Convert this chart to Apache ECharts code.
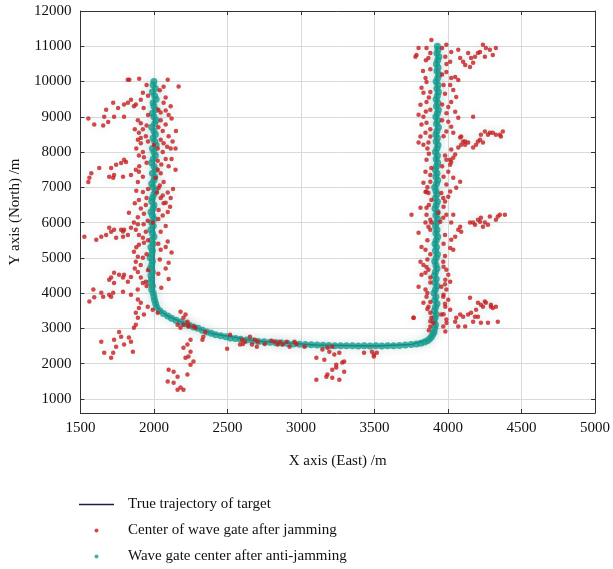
<!DOCTYPE html>
<html>
<head>
<meta charset="utf-8">
<script src="https://cdn.jsdelivr.net/npm/echarts@6/dist/echarts.min.js"></script>
<style>html,body{margin:0;padding:0;background:#fff}#c{width:613px;height:569px}</style>
</head>
<body>
<div id="c"></div>
<script>
const xTicks = [1500, 2000, 2500, 3000, 3500, 4000, 4500, 5000];
const yTicks = [1000, 2000, 3000, 4000, 5000, 6000, 7000, 8000, 9000, 10000, 11000, 12000];
const legendNames = ['True trajectory of target', 'Center of wave gate after jamming', 'Wave gate center after anti-jamming'];

const trueTrajectory = [[2000,10000],[2000,4000],[2020,3600],[2080,3380],[2200,3150],[2400,2850],[2700,2640],[3100,2530],[3500,2500],[3750,2540],[3880,2700],[3915,3000],[3925,11000]];

const antiLeft = [[2000,10000],[1995,9900],[2010,9800],[1990,9700],[2005,9600],[2015,9500],[1995,9400],[2000,9300],[2010,9200],[1990,9100],[2000,9000],[2015,8900],[2005,8800],[1985,8700],[2000,8600],[2010,8500],[1995,8400],[2005,8300],[2015,8200],[1990,8100],[2000,8000],[2010,7900],[1995,7800],[1985,7700],[2000,7600],[2010,7500],[1990,7400],[2005,7300],[2000,7200],[1985,7100],[1995,7000],[2010,6900],[2000,6800],[1990,6700],[1985,6600],[2000,6500],[1995,6400],[1980,6300],[1990,6200],[2000,6100],[1985,6000],[1995,5900],[1980,5800],[1990,5700],[2000,5600],[1985,5500],[1995,5400],[1980,5300],[1990,5200],[1985,5100],[1975,5000],[1990,4900],[1985,4800],[1975,4700],[1990,4600],[1980,4500],[1985,4400],[1975,4300],[1990,4200],[1985,4100],[1995,4000],[2000,3900]];
const antiCurve = [[2005,3800],[2012,3700],[2020,3600],[2040,3500],[2065,3420],[2094,3350],[2120,3290],[2150,3230],[2181,3180],[2210,3130],[2240,3090],[2270,3040],[2300,3000],[2330,2950],[2360,2900],[2390,2860],[2420,2820],[2455,2790],[2490,2760],[2520,2730],[2555,2710],[2590,2690],[2630,2670],[2670,2650],[2710,2630],[2750,2620],[2790,2605],[2830,2595],[2870,2585],[2910,2570],[2950,2560],[2990,2550],[3030,2540],[3070,2535],[3110,2525],[3150,2520],[3190,2515],[3230,2510],[3270,2510],[3310,2505],[3350,2505],[3390,2500],[3430,2505],[3470,2500],[3510,2505],[3550,2500],[3590,2505],[3630,2510],[3670,2515],[3710,2525],[3750,2540],[3785,2560],[3815,2580],[3840,2610],[3860,2650],[3875,2700],[3888,2760],[3897,2830],[3905,2900]];
const antiRight = [[3910,3000],[3915,3100],[3905,3200],[3912,3300],[3920,3400],[3908,3500],[3915,3600],[3925,3700],[3910,3800],[3918,3900],[3905,4000],[3915,4100],[3925,4200],[3912,4300],[3920,4400],[3908,4500],[3915,4600],[3925,4700],[3918,4800],[3910,4900],[3920,5000],[3928,5100],[3915,5200],[3922,5300],[3912,5400],[3920,5500],[3930,5600],[3918,5700],[3925,5800],[3915,5900],[3922,6000],[3930,6100],[3918,6200],[3925,6300],[3912,6400],[3920,6500],[3928,6600],[3915,6700],[3925,6800],[3918,6900],[3910,7000],[3922,7100],[3930,7200],[3918,7300],[3925,7400],[3915,7500],[3922,7600],[3930,7700],[3920,7800],[3928,7900],[3915,8000],[3925,8100],[3932,8200],[3920,8300],[3928,8400],[3918,8500],[3925,8600],[3935,8700],[3922,8800],[3930,8900],[3918,9000],[3928,9100],[3935,9200],[3922,9300],[3930,9400],[3920,9500],[3928,9600],[3935,9700],[3925,9800],[3932,9900],[3920,10000],[3930,10100],[3938,10200],[3925,10300],[3932,10400],[3922,10500],[3930,10600],[3938,10700],[3925,10800],[3932,10900],[3928,11000]];

const jammedLeftUpper = [[1822,10050],[1833,10050],[1900,10080],[2094,10050],[2066,9850],[2168,9860],[1925,9680],[1911,9480],[1844,9480],[1864,9300],[1723,9400],[1756,9250],[1797,9350],[1823,9400],[1877,9350],[1675,9200],[1662,9000],[1554,8950],[1594,8780],[1655,8750],[1689,8850],[1729,9000],[1797,9000],[2066,9400],[2114,9300],[2080,9180],[2046,9120],[2100,9050],[1891,8900],[1911,8820],[1925,8650],[1898,8550],[1945,8450],[1911,8400],[2046,8900],[2080,8780],[2060,8600],[2100,8450],[2046,8350],[2127,8300],[2066,8250],[2147,8100],[2114,8100],[1891,8350],[1911,8250],[1925,8000],[1898,7900],[1932,7850],[2026,8100],[2060,8000],[2080,7800],[2026,7750],[2100,7600],[1797,7780],[1777,7690],[1810,7720],[1743,7640],[1709,7550],[1729,7350],[1696,7300],[1723,7270],[1628,7550],[1574,7400],[1561,7270],[1554,7150],[1790,7300],[1844,7350],[1877,7500],[1898,7440],[1925,7300],[2147,7500],[2026,7500],[2046,7400],[2012,7270],[2066,7150],[2032,6980],[2094,6850],[2060,6770],[2114,6700],[2080,6560],[1891,7150],[1925,6870],[1898,6640],[1945,6500],[1911,6400],[1932,6250],[1891,6150],[1958,6050],[1992,6000],[2046,6700],[2066,6550],[2032,6360],[2094,6300],[2060,6200],[1830,6280],[1864,6000],[1844,5850],[1891,5950],[1877,5800],[1797,5800],[1696,5850],[1790,5750]];
const jammedLeftColumn = [[1950,9900],[2040,9750],[1960,9600],[2080,9550],[1930,9250],[2030,9200],[1960,9050],[2120,8950],[1950,8750],[2030,8700],[1870,8650],[2150,8600],[1960,8300],[2000,8200],[2090,8150],[1880,8100],[1950,7700],[2050,7650],[2120,7800],[1900,7600],[2040,7050],[1960,6950],[2130,6950],[1880,6900],[2020,6850],[1950,6700],[2110,6450],[1870,6550],[2030,6100],[1930,5950],[2080,5900],[1960,5500],[2030,5400],[1880,5300],[2120,5150],[1950,5100],[2040,4950],[1910,4800],[2080,4700],[1960,4650],[2030,4550],[1870,4700],[2100,4400],[1950,4200],[2050,4150],[1890,4100]];
const jammedLeftLower = [[1527,5600],[1608,5510],[1642,5600],[1675,5650],[1709,5740],[1729,5800],[1777,5800],[1743,5570],[1790,5600],[1823,5650],[1898,5650],[1925,5570],[1945,5740],[1932,5430],[1898,5370],[2046,5740],[2094,5460],[2080,5310],[2100,4860],[2046,5230],[1864,5170],[1891,5030],[1877,4890],[1925,5000],[1729,4580],[1763,4520],[1709,4440],[1696,4380],[1797,4520],[1790,4440],[1844,4460],[1823,4320],[1729,4290],[1891,4600],[1911,4440],[1925,4290],[1945,4320],[1588,4100],[1594,3880],[1561,3760],[1642,4010],[1655,3900],[1696,3950],[1709,3900],[1723,4010],[1790,4040],[1844,3950],[1891,3820],[1911,3730],[1958,3610],[1992,3530],[2026,3440],[1898,3580],[1932,3390],[1877,3440],[1891,3300],[1877,3100],[1864,3020],[2181,3470],[2201,3300],[2161,3100],[2181,3020],[2235,3100],[2269,3050],[1763,2900],[1729,2680],[1777,2760],[1830,2740],[1844,2620],[1743,2480],[1662,2310],[1723,2310],[1709,2170],[1797,2540],[1642,2620],[1857,2340],[2249,2680],[2228,2540],[2201,2450],[2249,2340],[2235,2200],[2215,2170],[2269,2060],[2249,1970],[2228,1690],[2134,1770],[2100,1830],[2161,1630],[2094,1490],[2134,1460],[2181,1320],[2161,1260],[2201,1260]];
const jammedMiddle = [[2215,3390],[2228,3190],[2201,3100],[2235,3050],[2282,3020],[2350,2900],[2336,2760],[2330,2680],[2518,2820],[2498,2420],[2599,2680],[2606,2560],[2619,2620],[2586,2540],[2653,2760],[2687,2680],[2707,2620],[2667,2540],[2700,2480],[2754,2560],[2801,2650],[2822,2620],[2856,2620],[2842,2540],[2903,2620],[2876,2540],[2923,2480],[2957,2620],[2970,2560],[3024,2480],[3105,2170],[3146,2400],[3180,2450],[3213,2480],[3193,2340],[3227,2260],[3261,2310],[3159,2110],[3240,1970],[3294,2060],[3281,2030],[3213,1830],[3240,1890],[3294,1770],[3180,1690],[3173,1630],[3213,1600],[3261,1540],[3105,1540],[3429,2310],[3483,2340],[3496,2260],[3516,2310],[3496,2200],[3766,3300]];
const jammedRightUpper = [[3887,11180],[3800,10950],[3786,10750],[3779,10700],[3854,10950],[3867,10670],[3880,10810],[3989,11040],[3982,10700],[4022,10840],[4015,10560],[4070,10900],[4083,10670],[4137,10810],[4157,10670],[4184,10700],[4204,10810],[4218,10840],[4238,11040],[4258,10950],[4285,10900],[4326,10950],[4305,10750],[4251,10700],[4171,10530],[4150,10410],[4117,10470],[4103,10560],[3847,10100],[3854,9990],[3820,9820],[3833,9680],[3854,9420],[3813,9340],[3800,9060],[3833,9000],[3820,8780],[3854,8830],[3847,8550],[3813,8440],[3800,8270],[3833,8210],[3867,8270],[3880,8440],[3854,7780],[3847,7440],[3833,7130],[3854,6880],[3880,7160],[3887,7550],[3989,10270],[4022,10100],[4049,10130],[4070,10040],[4015,9900],[4036,9760],[4056,9560],[4022,9420],[4002,9280],[4049,9140],[4070,8970],[4002,8860],[4022,8720],[3989,8580],[4036,8550],[4083,8410],[4117,8300],[4090,8210],[4070,8130],[4022,8070],[4049,7930],[3989,7780],[4015,7640],[4002,7440],[4036,7270],[4056,6990],[4015,6880],[3989,7080],[4083,7160],[4171,9000],[4090,8440],[4103,8300],[4117,8210],[4137,8270],[4171,8130],[4191,8210],[4204,8300],[4224,8490],[4251,8580],[4272,8490],[4285,8550],[4305,8550],[4326,8490],[4353,8490],[4373,8580],[4360,8440],[4238,8270],[4218,8350],[4036,7840],[4022,7720],[4015,7780]];
const jammedRightColumn = [[3960,10950],[3850,10600],[3990,10500],[3880,10350],[3960,10200],[3830,10300],[3970,9900],[3880,9700],[3980,9650],[3870,9550],[3960,9350],[3880,9200],[3990,9100],[3850,9150],[3960,8900],[3880,8650],[3970,8450],[3860,8100],[3980,7900],[3870,7950],[3960,7600],[3880,7350],[3970,7300],[3860,7000],[3980,6600],[3870,6500],[3970,6450],[3880,5800],[3980,5650],[3860,5500],[3970,5400],[3880,5100],[3980,5050],[3860,4950],[3970,4750],[3880,4300],[3980,4250],[3860,4000],[3970,3950],[3880,3750],[3980,3700],[3860,3550],[3970,3400],[3880,3200],[3990,3150],[3870,2950]];
const jammedRightLower = [[3847,6870],[3867,6840],[3955,6840],[3968,6700],[4002,6730],[3887,6640],[3854,6420],[3813,6420],[3752,6220],[3854,6220],[3880,6080],[3847,6000],[3867,5880],[3887,6000],[3935,6280],[3948,6020],[3968,6140],[3989,6220],[4036,6220],[4022,6000],[4083,5880],[4090,5740],[4070,5800],[4049,5600],[4022,5510],[4015,5280],[4036,5230],[4171,6000],[4204,6080],[4224,6140],[4251,6000],[4272,5940],[4238,5880],[4218,6020],[4285,6170],[4326,6080],[4339,6170],[4353,6220],[4387,6220],[4184,5940],[4150,6000],[3800,5710],[3820,5310],[3847,5230],[3813,4890],[3833,4800],[3854,4740],[3847,4580],[3867,4660],[3880,4440],[3820,4520],[3800,4180],[3847,4100],[3854,3900],[3833,3730],[3867,3610],[3880,3440],[3766,3300],[3887,3300],[3901,3160],[3880,3050],[3968,4890],[3989,4660],[4002,4520],[3982,4380],[4015,4320],[3955,4180],[3989,4100],[3968,3900],[4002,3810],[3982,3610],[4015,3530],[3955,3390],[3989,3250],[3968,3050],[3982,2910],[4150,3870],[4204,3730],[4224,3670],[4251,3760],[4258,3730],[4292,3610],[4305,3580],[4326,3610],[4238,3610],[4191,3530],[4157,3440],[4184,3330],[4204,3330],[4137,3390],[4103,3330],[4083,3390],[4056,3300],[4049,3190],[4070,3050],[4117,3050],[4171,3190],[4224,3160],[4272,3160],[4339,3190],[4292,3670]];

const jammedPoints = [].concat(jammedLeftUpper, jammedLeftColumn, jammedLeftLower, jammedMiddle, jammedRightUpper, jammedRightColumn, jammedRightLower);
const antiJammedPoints = [].concat(antiLeft, antiCurve, antiRight);

const serif = "'Liberation Serif', 'DejaVu Serif', serif";
const chart = echarts.init(document.getElementById('c'), null, {renderer: 'canvas'});
const tickStyle = {show: true, inside: true, length: 4, lineStyle: {color: '#333', width: 1}};
const plain = v => String(v);
chart.setOption({
  backgroundColor: '#ffffff',
  animation: false,
  grid: {left: 79, right: 15, top: 11, bottom: 156, containLabel: false},
  legend: {
    orient: 'vertical', left: 79, top: 496, padding: 0, itemWidth: 35, itemHeight: 4, itemGap: 9,
    data: [
      {name: legendNames[0], icon: 'path://M0,0H70V3H0Z', itemStyle: {color: '#1b1b55'}},
      {name: legendNames[1], icon: 'circle', itemStyle: {color: '#c81c1e', shadowBlur: 0}},
      {name: legendNames[2], icon: 'circle', itemStyle: {color: '#0f9e8f', shadowBlur: 0}}
    ],
    textStyle: {fontFamily: serif, fontSize: 15, color: '#111', padding: [0, 0, 0, 9], lineHeight: 17}
  },
  xAxis: [{
    type: 'value', min: xTicks[0], max: xTicks[xTicks.length - 1], interval: 500,
    name: 'X axis (East) /m', nameLocation: 'middle', nameGap: 41,
    nameTextStyle: {fontFamily: serif, fontSize: 15, color: '#111'},
    axisLine: {show: true, lineStyle: {color: '#333', width: 1}},
    axisTick: tickStyle,
    axisLabel: {fontFamily: serif, fontSize: 15, color: '#111', margin: 8, formatter: plain},
    splitLine: {show: true, lineStyle: {color: '#dadada', width: 1}}
  }, {
    type: 'value', position: 'top', min: xTicks[0], max: xTicks[xTicks.length - 1], interval: 500,
    axisLine: {show: true, onZero: false, lineStyle: {color: '#333', width: 1}},
    axisTick: tickStyle, axisLabel: {show: false}, splitLine: {show: false}
  }],
  yAxis: [{
    type: 'value', min: 600, max: 12000,
    name: 'Y axis (North) /m', nameLocation: 'middle', nameGap: 56, nameRotate: 90,
    nameTextStyle: {fontFamily: serif, fontSize: 15, color: '#111'},
    axisLine: {show: true, onZero: false, lineStyle: {color: '#333', width: 1}},
    axisTick: Object.assign({}, tickStyle, {customValues: yTicks}),
    axisLabel: {fontFamily: serif, fontSize: 15, color: '#111', margin: 9, customValues: yTicks, formatter: plain},
    splitLine: {show: true, lineStyle: {color: '#dadada', width: 1}}
  }, {
    type: 'value', position: 'right', min: 600, max: 12000,
    axisLine: {show: true, onZero: false, lineStyle: {color: '#333', width: 1}},
    axisTick: Object.assign({}, tickStyle, {customValues: yTicks}),
    axisLabel: {show: false, customValues: yTicks}, splitLine: {show: false}
  }],
  series: [
    {
      name: legendNames[0], type: 'line', data: trueTrajectory, symbol: 'none', z: 2,
      lineStyle: {color: '#1b1b55', width: 1.5}, itemStyle: {color: '#1b1b55'}
    },
    {
      name: legendNames[2], type: 'scatter', data: antiJammedPoints, symbolSize: 7, z: 3,
      itemStyle: {color: '#0f9e8f', shadowBlur: 8, shadowColor: 'rgba(140,180,180,0.35)'}
    },
    {
      name: legendNames[1], type: 'scatter', data: jammedPoints, symbolSize: 4.5, z: 4,
      itemStyle: {color: '#c81c1e', shadowBlur: 10, shadowColor: 'rgba(150,185,185,0.4)'}
    }
  ]
});
</script>
</body>
</html>
